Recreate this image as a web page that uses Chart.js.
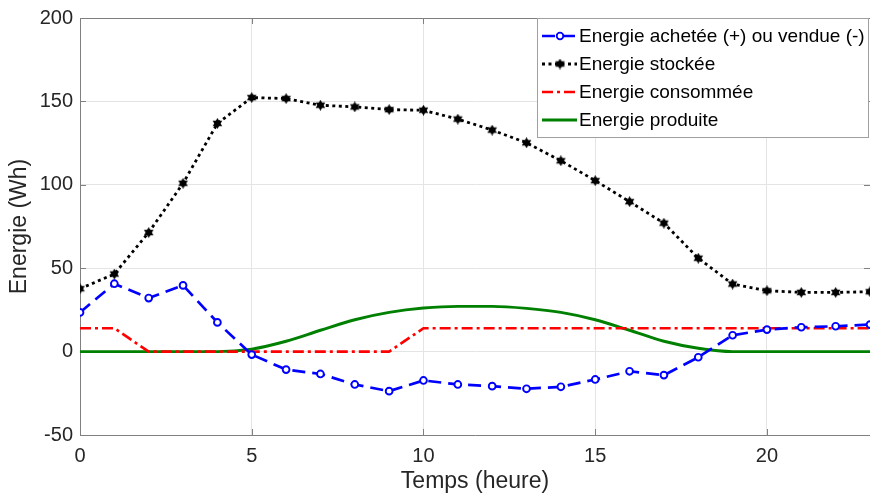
<!DOCTYPE html>
<html>
<head>
<meta charset="utf-8">
<script src="https://cdn.jsdelivr.net/npm/chart.js@4.4.1/dist/chart.umd.min.js"></script>
<style>
html,body{margin:0;padding:0;background:#fff;}
#wrap{width:870px;height:495px;position:relative;}
</style>
</head>
<body>
<div id="wrap"><canvas id="c" width="870" height="495"></canvas></div>
<script>
// ---- data ----
const hours = [0,1,2,3,4,5,6,7,8,9,10,11,12,13,14,15,16,17,18,19,20,21,22,23];
const energieAchetee = [23.5,40.7,32.1,39.7,17.5,-1.8,-10.8,-13.4,-19.7,-23.7,-17.3,-19.7,-20.7,-22.3,-21.1,-16.7,-11.8,-14.1,-3.4,9.8,13.2,14.6,15.2,16.2];
const energieStockee = [37.7,46.5,71.4,100.9,136.8,152.3,151.7,147.7,146.7,145.1,144.7,139.4,132.8,125.2,114.4,102.5,89.9,77.0,56.0,40.5,36.5,35.5,35.5,35.9];
const energieConsommee = [14,14,0,0,0,0,0,0,0,0,14,14,14,14,14,14,14,14,14,14,14,14,14,14];
const energieProduite = [0,0,0,0,0,1.5,6.2,12.8,19.1,23.5,26.1,27.1,27.1,25.9,23.5,19.1,12.8,6.2,2.0,0,0,0,0,0];
const seriesLabels = ['Energie achetée (+) ou vendue (-)','Energie stockée','Energie consommée','Energie produite'];
const xTickValues = [0,5,10,15,20];
const yTickValues = [-50,0,50,100,150,200];
const xTitle = 'Temps (heure)';
const yTitle = 'Energie (Wh)';

const FONT = '"Liberation Sans", Arial, sans-serif';
const TXT = '#262626';

function toXY(arr){ return arr.map((v,i)=>({x:hours[i], y:v})); }

// hexagram marker
function makeHexagram(size){
  const c = document.createElement('canvas');
  c.width = size; c.height = size;
  const g = c.getContext('2d');
  const cx = size/2, cy = size/2, r = size/2;
  g.fillStyle = '#000';
  for (const rot of [-Math.PI/2, Math.PI/2]) {
    g.beginPath();
    for (let k=0;k<3;k++){
      const a = rot + k*2*Math.PI/3;
      const px = cx + r*Math.cos(a), py = cy + r*Math.sin(a);
      if(k===0) g.moveTo(px,py); else g.lineTo(px,py);
    }
    g.closePath(); g.fill();
  }
  return c;
}
const hexMarker = makeHexagram(11);

const datasets = [
  {label: seriesLabels[0], data: toXY(energieAchetee), borderColor:'#0000ff', borderWidth:2.7,
   borderDash:[13,7], pointStyle:'circle', pointRadius:3.4, pointBorderWidth:1.9,
   pointBackgroundColor:'#ffffff', pointBorderColor:'#0000ff', tension:0},
  {label: seriesLabels[1], data: toXY(energieStockee), borderColor:'#000000', borderWidth:2.8,
   borderDash:[3,3.5], pointStyle:hexMarker, pointRadius:5.5, tension:0},
  {label: seriesLabels[2], data: toXY(energieConsommee), borderColor:'#ff0000', borderWidth:2.7,
   borderDash:[11,4,3,4], pointRadius:0, tension:0},
  {label: seriesLabels[3], data: toXY(energieProduite), borderColor:'#008000', borderWidth:2.9,
   pointRadius:0, cubicInterpolationMode:'monotone'}
];

const frame = {
  id:'frame',
  beforeDatasetsDraw(chart){
    const ca = chart.chartArea, ctx = chart.ctx;
    const xs = chart.scales.x, ys = chart.scales.y;
    ctx.save();
    ctx.strokeStyle = '#808080'; ctx.lineWidth = 1;
    ctx.beginPath();
    ctx.moveTo(ca.left, ca.top+0.5); ctx.lineTo(ca.right, ca.top+0.5);
    for (const v of xTickValues){
      const px = Math.round(xs.getPixelForValue(v))+0.5;
      ctx.moveTo(px, ca.bottom); ctx.lineTo(px, ca.bottom-6);
      ctx.moveTo(px, ca.top); ctx.lineTo(px, ca.top+6);
    }
    for (const v of yTickValues){
      const py = Math.round(ys.getPixelForValue(v))+0.5;
      ctx.moveTo(ca.left, py); ctx.lineTo(ca.left+6, py);
      ctx.moveTo(ca.right, py); ctx.lineTo(ca.right-6, py);
    }
    ctx.stroke();
    ctx.restore();
  },
  afterDraw(chart){
    const ctx = chart.ctx;
    const bx = 537.5, by = 18.5, bw = 331, bh = 119;
    ctx.save();
    ctx.fillStyle = '#ffffff';
    ctx.fillRect(bx, by, bw, bh);
    ctx.strokeStyle = '#a0a0a0'; ctx.lineWidth = 1;
    ctx.strokeRect(bx, by, bw, bh);
    const rows = [36, 64, 92, 120];
    const x0 = 542, x1 = 577, xm = 560;
    chart.data.datasets.forEach((ds,i)=>{
      const y = rows[i];
      ctx.save();
      ctx.strokeStyle = ds.borderColor;
      ctx.lineWidth = ds.borderWidth;
      ctx.setLineDash(ds.borderDash || []);
      ctx.beginPath(); ctx.moveTo(x0, y); ctx.lineTo(x1, y); ctx.stroke();
      ctx.setLineDash([]);
      if (i===0){
        ctx.beginPath(); ctx.arc(xm, y, 3.3, 0, Math.PI*2);
        ctx.fillStyle='#fff'; ctx.fill();
        ctx.lineWidth = 1.8; ctx.strokeStyle = ds.borderColor; ctx.stroke();
      } else if (i===1){
        ctx.drawImage(hexMarker, xm-5.5, y-5.5);
      }
      ctx.restore();
      ctx.fillStyle = '#000';
      ctx.font = '19px ' + FONT;
      ctx.textBaseline = 'middle';
      ctx.textAlign = 'left';
      ctx.fillText(ds.label, 579, y+1);
    });
    ctx.restore();
  }
};

new Chart(document.getElementById('c'), {
  type:'line',
  data:{datasets},
  options:{
    responsive:false,
    animation:false,
    devicePixelRatio:1,
    layout:{autoPadding:false, padding:{top:18,right:0,left:0,bottom:0}},
    plugins:{legend:{display:false}, tooltip:{enabled:false}},
    scales:{
      x:{type:'linear', min:0, max:23,
        afterFit(s){ s.height = 60; s.paddingRight = 0; s.paddingLeft = 0; },
        afterBuildTicks(s){ s.ticks = xTickValues.map(v=>({value:v})); },
        grid:{color:'#e4e4e4', lineWidth:1, drawTicks:false},
        border:{display:true, color:'#808080', width:1},
        ticks:{padding:9, color:TXT, font:{family:FONT, size:20}, maxRotation:0},
        title:{display:true, text:xTitle, color:TXT, font:{family:FONT, size:23}, padding:{top:0,bottom:0}}
      },
      y:{type:'linear', min:-50, max:200,
        afterFit(s){ s.width = 80; s.paddingTop = 0; s.paddingBottom = 0; },
        afterBuildTicks(s){ s.ticks = yTickValues.map(v=>({value:v})); },
        grid:{color:'#e4e4e4', lineWidth:1, drawTicks:false},
        border:{display:true, color:'#808080', width:1},
        ticks:{padding:7, color:TXT, font:{family:FONT, size:20}},
        title:{display:true, text:yTitle, color:TXT, font:{family:FONT, size:23}, padding:{top:6,bottom:0}}
      }
    }
  },
  plugins:[frame]
});
</script>
</body>
</html>
